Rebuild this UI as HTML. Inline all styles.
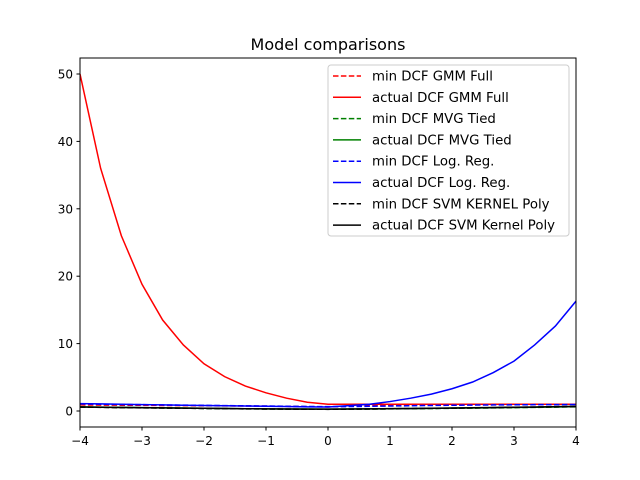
<!DOCTYPE html>
<html><head><meta charset="utf-8"><style>
body{margin:0;background:#fff;}
svg{display:block;font-family:"DejaVu Sans","Liberation Sans",sans-serif;}
</style></head><body>
<svg id="chart" width="640" height="480">
<rect width="640" height="480" fill="#fff"/>
<text x="328" y="50" text-anchor="middle" font-size="16">Model comparisons</text>
<g id="plot"></g>
<rect x="80" y="58" width="496" height="369" fill="none" stroke="#000" stroke-width="1"/>
<g id="ticks"></g>
<g id="legend"></g>
</svg>
<script>
const xs=[-4,-3.667,-3.333,-3,-2.667,-2.333,-2,-1.667,-1.333,-1,-0.667,-0.333,0,0.333,0.667,1,1.333,1.667,2,2.333,2.667,3,3.333,3.667,4];
const gmmMin=[0.9,0.88,0.86,0.84,0.82,0.8,0.78,0.76,0.74,0.72,0.68,0.64,0.6,0.7,0.8,0.85,0.9,0.92,0.94,0.95,0.96,0.97,0.98,0.99,1.0];
const gmmAct=[50,36,26,18.8,13.5,9.8,7.0,5.1,3.7,2.7,1.9,1.3,1.0,1.0,1.0,1.0,1.0,1.0,1.0,1.0,1.0,1.0,1.0,1.0,1.0];
const mvgMin=[0.6,0.56,0.52,0.48,0.45,0.42,0.38,0.35,0.32,0.3,0.28,0.27,0.26,0.27,0.29,0.31,0.34,0.37,0.4,0.43,0.46,0.5,0.54,0.58,0.62];
const mvgAct=[0.62,0.58,0.54,0.5,0.47,0.44,0.4,0.37,0.34,0.32,0.3,0.29,0.28,0.29,0.31,0.33,0.36,0.39,0.42,0.45,0.48,0.52,0.56,0.6,0.64];
const lrMin=[1.05,1.0,0.97,0.94,0.9,0.87,0.84,0.8,0.77,0.74,0.7,0.67,0.64,0.66,0.7,0.74,0.78,0.82,0.85,0.88,0.9,0.92,0.94,0.95,0.96];
const lrAct=[1.1,1.05,1.0,0.95,0.9,0.86,0.82,0.78,0.74,0.7,0.66,0.62,0.6,0.8,1.0,1.4,1.9,2.5,3.3,4.3,5.7,7.4,9.8,12.6,16.3];
const svmMin=[0.58,0.54,0.5,0.47,0.44,0.41,0.38,0.35,0.32,0.3,0.28,0.26,0.25,0.27,0.3,0.33,0.36,0.39,0.42,0.46,0.5,0.54,0.58,0.62,0.66];
const svmAct=[0.6,0.56,0.52,0.49,0.46,0.43,0.4,0.37,0.34,0.32,0.3,0.28,0.27,0.29,0.32,0.35,0.38,0.41,0.44,0.48,0.52,0.56,0.6,0.64,0.68];
const xTicks=[-4,-3,-2,-1,0,1,2,3,4];
const yTicks=[0,10,20,30,40,50];
const names=["min DCF GMM Full","actual DCF GMM Full","min DCF MVG Tied","actual DCF MVG Tied","min DCF Log. Reg.","actual DCF Log. Reg.","min DCF SVM KERNEL Poly","actual DCF SVM Kernel Poly"];
const X=v=>80+(v+4)*62;
const Y=v=>411-v*6.74;
const NS="http://www.w3.org/2000/svg";
const series=[[gmmMin,"red",1],[gmmAct,"red",0],[mvgMin,"green",1],[mvgAct,"green",0],[lrMin,"blue",1],[lrAct,"blue",0],[svmMin,"black",1],[svmAct,"black",0]];
const plot=document.getElementById('plot');
const cp=document.createElementNS(NS,'clipPath');cp.setAttribute('id','clip');
const cr=document.createElementNS(NS,'rect');cr.setAttribute('x',80);cr.setAttribute('y',58);cr.setAttribute('width',496);cr.setAttribute('height',369);
cp.appendChild(cr);plot.appendChild(cp);
series.forEach((s,i)=>{
 const p=document.createElementNS(NS,'polyline');
 p.setAttribute('points',xs.map((x,j)=>X(x)+','+Y(s[0][j])).join(' '));
 p.setAttribute('fill','none');p.setAttribute('stroke',s[1]);p.setAttribute('stroke-width','1.5');
 if(s[2])p.setAttribute('stroke-dasharray','5.5,2.4');
 p.setAttribute('clip-path','url(#clip)');
 
 
 plot.appendChild(p);
});
const tk=document.getElementById('ticks');
xTicks.forEach(t=>{
 const l=document.createElementNS(NS,'line');l.setAttribute('x1',X(t));l.setAttribute('x2',X(t));l.setAttribute('y1',427);l.setAttribute('y2',430.5);l.setAttribute('stroke','#000');tk.appendChild(l);
 const tx=document.createElementNS(NS,'text');tx.setAttribute('x',X(t));tx.setAttribute('y',445);tx.setAttribute('text-anchor','middle');tx.setAttribute('font-size','12');
 tx.textContent=(t<0?'\u2212'+(-t):t);
 
 
 tk.appendChild(tx);
});
yTicks.forEach(t=>{
 const l=document.createElementNS(NS,'line');l.setAttribute('x1',76.5);l.setAttribute('x2',80);l.setAttribute('y1',Y(t));l.setAttribute('y2',Y(t));l.setAttribute('stroke','#000');tk.appendChild(l);
 const tx=document.createElementNS(NS,'text');tx.setAttribute('x',73);tx.setAttribute('y',Y(t)+4.5);tx.setAttribute('text-anchor','end');tx.setAttribute('font-size','12');
 tx.textContent=t;
 
 
 tk.appendChild(tx);
});
const lg=document.getElementById('legend');
const box=document.createElementNS(NS,'rect');box.setAttribute('x',328);box.setAttribute('y',65);box.setAttribute('width',241);box.setAttribute('height',171);box.setAttribute('rx',3);box.setAttribute('fill','#fff');box.setAttribute('fill-opacity','0.8');box.setAttribute('stroke','#ccc');lg.appendChild(box);
series.forEach((s,i)=>{
 const y=76+i*21.3;
 const l=document.createElementNS(NS,'line');l.setAttribute('x1',333);l.setAttribute('x2',361);l.setAttribute('y1',y);l.setAttribute('y2',y);l.setAttribute('stroke',s[1]);l.setAttribute('stroke-width','1.5');
 if(s[2])l.setAttribute('stroke-dasharray','5.5,2.4');
 lg.appendChild(l);
 const tx=document.createElementNS(NS,'text');tx.setAttribute('x',372);tx.setAttribute('y',y+4.5);tx.setAttribute('font-size','13.3');tx.textContent=names[i];
 
 
 lg.appendChild(tx);
});
</script>
</body></html>
